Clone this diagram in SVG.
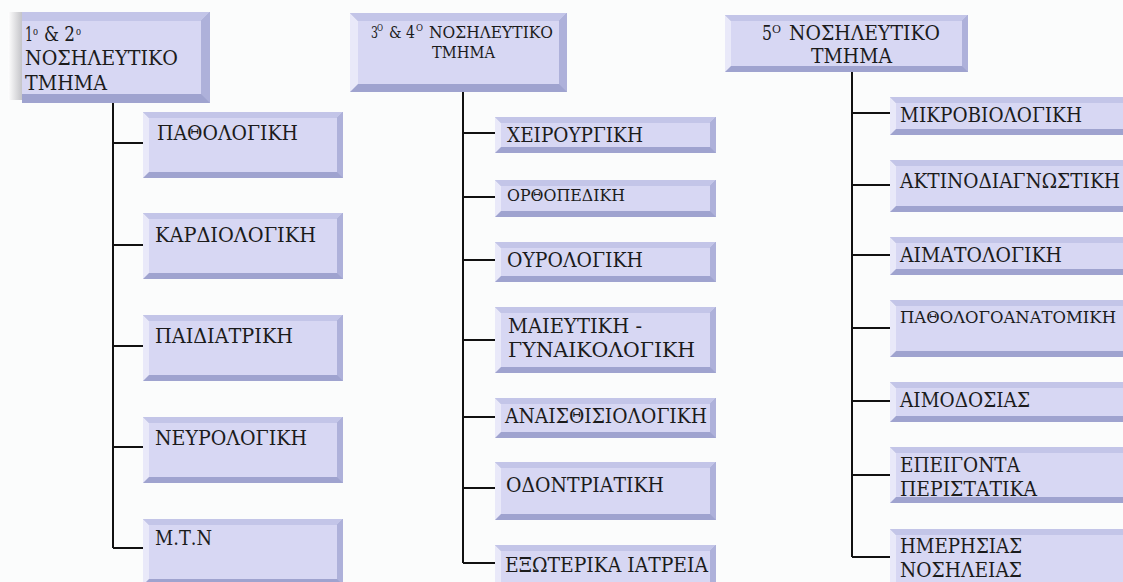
<svg xmlns="http://www.w3.org/2000/svg" width="1123" height="582" viewBox="0 0 1123 582">
<defs>
<linearGradient id="sh" x1="0" y1="0" x2="1" y2="0">
<stop offset="0" stop-color="#ffffff"/>
<stop offset="1" stop-color="#c4c4c8"/>
</linearGradient>
</defs>
<style>
.bb{fill:#9fa3cf}
.bt{fill:#c3c5e8}
.bl{fill:#e9e9f9}
.br{fill:#aeb1da}
.bf{fill:#d7d7f3}
.t{font-family:"DejaVu Serif","Liberation Serif","Times New Roman",serif;fill:#1b1b1b;font-size:21px}
.s17{font-size:17px}
.s16{font-size:16px}
.sup{font-size:11px}
.sup2{font-size:10px}
.c{stroke:#111;stroke-width:2;fill:none}
</style>
<rect x="0" y="0" width="1123" height="582" fill="#fbfcfc"/>

<g id="connectors">
<path class="c" d="M113,103V548M113,143H143M113,245H143M113,346H143M113,447H143M113,548H143"/>
<path class="c" d="M463,92V563M463,133H495M463,197H495M463,260H495M463,340H495M463,417H495M463,488H495M463,563H495"/>
<path class="c" d="M852,72V557M852,113H890M852,185H890M852,255H890M852,328H890M852,401H890M852,475H890M852,557H890"/>
</g>

<g id="h1">
<rect x="8" y="12" width="14" height="88" fill="url(#sh)"/>
<rect class="bb" x="22" y="12" width="188" height="91"/>
<polygon class="bt" points="22,12 210,12 201,21 22,21"/>
<polygon class="br" points="210,12 210,103 201,94 201,21"/>
<rect class="bf" x="22" y="21" width="179" height="73"/>
<text class="t" x="25" y="41" textLength="8" lengthAdjust="spacingAndGlyphs">1</text>
<text class="t sup" x="33" y="35" textLength="5" lengthAdjust="spacingAndGlyphs">o</text>
<text class="t" x="44" y="41" textLength="31" lengthAdjust="spacingAndGlyphs">&amp; 2</text>
<text class="t sup" x="76" y="35" textLength="5" lengthAdjust="spacingAndGlyphs">o</text>
<text class="t" x="25" y="65" textLength="153" lengthAdjust="spacingAndGlyphs">ΝΟΣΗΛΕΥΤΙΚΟ</text>
<text class="t" x="25" y="90" textLength="82" lengthAdjust="spacingAndGlyphs">ΤΜΗΜΑ</text>
</g>

<g id="h2">
<rect class="bb" x="350" y="13" width="217" height="79"/>
<polygon class="bt" points="350,13 567,13 559,21 358,21"/>
<polygon class="bl" points="350,13 358,21 358,84 350,92"/>
<polygon class="br" points="567,13 567,92 559,84 559,21"/>
<rect class="bf" x="358" y="21" width="201" height="63"/>
<text class="t s16" x="371" y="38" textLength="7" lengthAdjust="spacingAndGlyphs">3</text>
<text class="t sup2" x="377" y="31" textLength="6" lengthAdjust="spacingAndGlyphs">O</text>
<text class="t s16" x="389" y="38" textLength="26" lengthAdjust="spacingAndGlyphs">&amp; 4</text>
<text class="t sup2" x="416" y="31" textLength="7" lengthAdjust="spacingAndGlyphs">O</text>
<text class="t s16" x="429" y="38" textLength="124" lengthAdjust="spacingAndGlyphs">ΝΟΣΗΛΕΥΤΙΚΟ</text>
<text class="t s16" x="432" y="58" textLength="63" lengthAdjust="spacingAndGlyphs">ΤΜΗΜΑ</text>
</g>

<g id="h3">
<rect class="bb" x="725" y="15" width="243" height="57"/>
<polygon class="bt" points="725,15 968,15 962,21 731,21"/>
<polygon class="bl" points="725,15 731,21 731,66 725,72"/>
<polygon class="br" points="968,15 968,72 962,66 962,21"/>
<rect class="bf" x="731" y="21" width="231" height="45"/>
<text class="t" x="762" y="40" textLength="10" lengthAdjust="spacingAndGlyphs">5</text>
<text class="t sup" x="772" y="33" textLength="9" lengthAdjust="spacingAndGlyphs">O</text>
<text class="t" x="789" y="40" textLength="151" lengthAdjust="spacingAndGlyphs">ΝΟΣΗΛΕΥΤΙΚΟ</text>
<text class="t" x="811" y="63" textLength="81" lengthAdjust="spacingAndGlyphs">ΤΜΗΜΑ</text>
</g>

<g id="pathologiki">
<rect class="bb" x="143" y="112" width="200" height="66"/>
<polygon class="bt" points="143,112 343,112 337,118 149,118"/>
<polygon class="bl" points="143,112 149,118 149,172 143,178"/>
<polygon class="br" points="343,112 343,178 337,172 337,118"/>
<rect class="bf" x="149" y="118" width="188" height="54"/>
<text class="t" x="157" y="140" textLength="141" lengthAdjust="spacingAndGlyphs">ΠΑΘΟΛΟΓΙΚΗ</text>
</g>
<g id="kardiologiki">
<rect class="bb" x="143" y="213" width="200" height="66"/>
<polygon class="bt" points="143,213 343,213 337,219 149,219"/>
<polygon class="bl" points="143,213 149,219 149,273 143,279"/>
<polygon class="br" points="343,213 343,279 337,273 337,219"/>
<rect class="bf" x="149" y="219" width="188" height="54"/>
<text class="t" x="155" y="242" textLength="161" lengthAdjust="spacingAndGlyphs">ΚΑΡΔΙΟΛΟΓΙΚΗ</text>
</g>
<g id="paidiatriki">
<rect class="bb" x="143" y="315" width="200" height="66"/>
<polygon class="bt" points="143,315 343,315 337,321 149,321"/>
<polygon class="bl" points="143,315 149,321 149,375 143,381"/>
<polygon class="br" points="343,315 343,381 337,375 337,321"/>
<rect class="bf" x="149" y="321" width="188" height="54"/>
<text class="t" x="155" y="343" textLength="138" lengthAdjust="spacingAndGlyphs">ΠΑΙΔΙΑΤΡΙΚΗ</text>
</g>
<g id="neurologiki">
<rect class="bb" x="143" y="417" width="200" height="66"/>
<polygon class="bt" points="143,417 343,417 337,423 149,423"/>
<polygon class="bl" points="143,417 149,423 149,477 143,483"/>
<polygon class="br" points="343,417 343,483 337,477 337,423"/>
<rect class="bf" x="149" y="423" width="188" height="54"/>
<text class="t" x="155" y="445" textLength="152" lengthAdjust="spacingAndGlyphs">ΝΕΥΡΟΛΟΓΙΚΗ</text>
</g>
<g id="mtn">
<rect class="bb" x="143" y="519" width="200" height="66"/>
<polygon class="bt" points="143,519 343,519 337,525 149,525"/>
<polygon class="bl" points="143,519 149,525 149,579 143,585"/>
<polygon class="br" points="343,519 343,585 337,579 337,525"/>
<rect class="bf" x="149" y="525" width="188" height="54"/>
<text class="t" x="155" y="545" textLength="57" lengthAdjust="spacingAndGlyphs">Μ.Τ.Ν</text>
</g>

<g id="cheirourgiki">
<rect class="bb" x="495" y="117" width="221" height="36"/>
<polygon class="bt" points="495,117 716,117 710,123 501,123"/>
<polygon class="bl" points="495,117 501,123 501,147 495,153"/>
<polygon class="br" points="716,117 716,153 710,147 710,123"/>
<rect class="bf" x="501" y="123" width="209" height="24"/>
<text class="t" x="507" y="142" textLength="136" lengthAdjust="spacingAndGlyphs">ΧΕΙΡΟΥΡΓΙΚΗ</text>
</g>
<g id="orthopediki">
<rect class="bb" x="495" y="180" width="221" height="37"/>
<polygon class="bt" points="495,180 716,180 710,186 501,186"/>
<polygon class="bl" points="495,180 501,186 501,211 495,217"/>
<polygon class="br" points="716,180 716,217 710,211 710,186"/>
<rect class="bf" x="501" y="186" width="209" height="25"/>
<text class="t s17" x="507" y="201" textLength="118" lengthAdjust="spacingAndGlyphs">ΟΡΘΟΠΕΔΙΚΗ</text>
</g>
<g id="ourologiki">
<rect class="bb" x="495" y="242" width="221" height="40"/>
<polygon class="bt" points="495,242 716,242 710,248 501,248"/>
<polygon class="bl" points="495,242 501,248 501,276 495,282"/>
<polygon class="br" points="716,242 716,282 710,276 710,248"/>
<rect class="bf" x="501" y="248" width="209" height="28"/>
<text class="t" x="507" y="267" textLength="136" lengthAdjust="spacingAndGlyphs">ΟΥΡΟΛΟΓΙΚΗ</text>
</g>
<g id="maieutiki">
<rect class="bb" x="495" y="307" width="221" height="66"/>
<polygon class="bt" points="495,307 716,307 710,313 501,313"/>
<polygon class="bl" points="495,307 501,313 501,367 495,373"/>
<polygon class="br" points="716,307 716,373 710,367 710,313"/>
<rect class="bf" x="501" y="313" width="209" height="54"/>
<text class="t" x="508" y="333" textLength="134" lengthAdjust="spacingAndGlyphs">ΜΑΙΕΥΤΙΚΗ -</text>
<text class="t" x="508" y="357" textLength="187" lengthAdjust="spacingAndGlyphs">ΓΥΝΑΙΚΟΛΟΓΙΚΗ</text>
</g>
<g id="anaisthisiologiki">
<rect class="bb" x="495" y="398" width="221" height="40"/>
<polygon class="bt" points="495,398 716,398 710,404 501,404"/>
<polygon class="bl" points="495,398 501,404 501,432 495,438"/>
<polygon class="br" points="716,398 716,438 710,432 710,404"/>
<rect class="bf" x="501" y="404" width="209" height="28"/>
<text class="t" x="505" y="423" textLength="202" lengthAdjust="spacingAndGlyphs">ΑΝΑΙΣΘΙΣΙΟΛΟΓΙΚΗ</text>
</g>
<g id="odontriatiki">
<rect class="bb" x="495" y="462" width="221" height="58"/>
<polygon class="bt" points="495,462 716,462 710,468 501,468"/>
<polygon class="bl" points="495,462 501,468 501,514 495,520"/>
<polygon class="br" points="716,462 716,520 710,514 710,468"/>
<rect class="bf" x="501" y="468" width="209" height="46"/>
<text class="t" x="506" y="492" textLength="158" lengthAdjust="spacingAndGlyphs">ΟΔΟΝΤΡΙΑΤΙΚΗ</text>
</g>
<g id="exoterika">
<rect class="bb" x="495" y="545" width="221" height="50"/>
<polygon class="bt" points="495,545 716,545 710,551 501,551"/>
<polygon class="bl" points="495,545 501,551 501,589 495,595"/>
<polygon class="br" points="716,545 716,595 710,589 710,551"/>
<rect class="bf" x="501" y="551" width="209" height="38"/>
<text class="t" x="505" y="572" textLength="203" lengthAdjust="spacingAndGlyphs">ΕΞΩΤΕΡΙΚΑ ΙΑΤΡΕΙΑ</text>
</g>

<g id="mikroviologiki">
<rect class="bb" x="890" y="97" width="250" height="38"/>
<polygon class="bt" points="890,97 1140,97 1134,103 896,103"/>
<polygon class="bl" points="890,97 896,103 896,129 890,135"/>
<rect class="bf" x="896" y="103" width="238" height="26"/>
<text class="t" x="900" y="122" textLength="182" lengthAdjust="spacingAndGlyphs">ΜΙΚΡΟΒΙΟΛΟΓΙΚΗ</text>
</g>
<g id="aktinodiagnostiki">
<rect class="bb" x="890" y="160" width="250" height="52"/>
<polygon class="bt" points="890,160 1140,160 1134,166 896,166"/>
<polygon class="bl" points="890,160 896,166 896,206 890,212"/>
<rect class="bf" x="896" y="166" width="238" height="40"/>
<text class="t" x="900" y="188" textLength="220" lengthAdjust="spacingAndGlyphs">ΑΚΤΙΝΟΔΙΑΓΝΩΣΤΙΚΗ</text>
</g>
<g id="aimatologiki">
<rect class="bb" x="890" y="237" width="250" height="38"/>
<polygon class="bt" points="890,237 1140,237 1134,243 896,243"/>
<polygon class="bl" points="890,237 896,243 896,269 890,275"/>
<rect class="bf" x="896" y="243" width="238" height="26"/>
<text class="t" x="900" y="262" textLength="162" lengthAdjust="spacingAndGlyphs">ΑΙΜΑΤΟΛΟΓΙΚΗ</text>
</g>
<g id="pathologoanatomiki">
<rect class="bb" x="890" y="300" width="250" height="57"/>
<polygon class="bt" points="890,300 1140,300 1134,306 896,306"/>
<polygon class="bl" points="890,300 896,306 896,351 890,357"/>
<rect class="bf" x="896" y="306" width="238" height="45"/>
<text class="t s17" x="900" y="323" textLength="216" lengthAdjust="spacingAndGlyphs">ΠΑΘΟΛΟΓΟΑΝΑΤΟΜΙΚΗ</text>
</g>
<g id="aimodosias">
<rect class="bb" x="890" y="382" width="250" height="40"/>
<polygon class="bt" points="890,382 1140,382 1134,388 896,388"/>
<polygon class="bl" points="890,382 896,388 896,416 890,422"/>
<rect class="bf" x="896" y="388" width="238" height="28"/>
<text class="t" x="900" y="407" textLength="130" lengthAdjust="spacingAndGlyphs">ΑΙΜΟΔΟΣΙΑΣ</text>
</g>
<g id="epeigonta">
<rect class="bb" x="890" y="447" width="250" height="56"/>
<polygon class="bt" points="890,447 1140,447 1134,453 896,453"/>
<polygon class="bl" points="890,447 896,453 896,497 890,503"/>
<rect class="bf" x="896" y="453" width="238" height="44"/>
<text class="t" x="900" y="472" textLength="120" lengthAdjust="spacingAndGlyphs">ΕΠΕΙΓΟΝΤΑ</text>
<text class="t" x="900" y="496" textLength="137" lengthAdjust="spacingAndGlyphs">ΠΕΡΙΣΤΑΤΙΚΑ</text>
</g>
<g id="imerisias">
<rect class="bb" x="890" y="529" width="250" height="60"/>
<polygon class="bt" points="890,529 1140,529 1134,535 896,535"/>
<polygon class="bl" points="890,529 896,535 896,583 890,589"/>
<rect class="bf" x="896" y="535" width="238" height="48"/>
<text class="t" x="900" y="553" textLength="122" lengthAdjust="spacingAndGlyphs">ΗΜΕΡΗΣΙΑΣ</text>
<text class="t" x="900" y="577" textLength="122" lengthAdjust="spacingAndGlyphs">ΝΟΣΗΛΕΙΑΣ</text>
</g>
</svg>
